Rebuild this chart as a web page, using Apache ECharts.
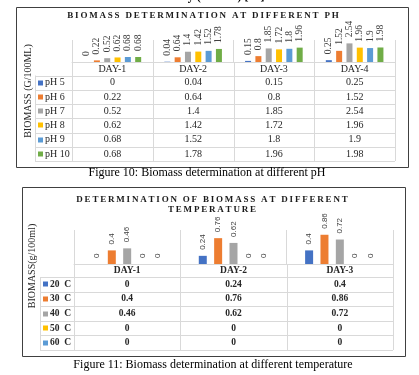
<!DOCTYPE html>
<html>
<head>
<meta charset="utf-8">
<script src="https://cdn.jsdelivr.net/npm/echarts@6/dist/echarts.min.js"></script>
<style>
html, body { margin: 0; padding: 0; background: #fff; }
#main { width: 419px; height: 375px; }
</style>
</head>
<body>
<div id="main"></div>
<script>
// figure 10 - pH
const days1 = ['DAY-1', 'DAY-2', 'DAY-3', 'DAY-4'];
const phNames = ['pH 5', 'pH 6', 'pH 7', 'pH 8', 'pH 9', 'pH 10'];
const ph5 = [0, 0.04, 0.15, 0.25];
const ph6 = [0.22, 0.64, 0.8, 1.52];
const ph7 = [0.52, 1.4, 1.85, 2.54];
const ph8 = [0.62, 1.42, 1.72, 1.96];
const ph9 = [0.68, 1.52, 1.8, 1.9];
const ph10 = [0.68, 1.78, 1.96, 1.98];

// figure 11 - temperature
const days2 = ['DAY-1', 'DAY-2', 'DAY-3'];
const tempNames = ['20  C', '30  C', '40  C', '50  C', '60  C'];
const t20 = [0, 0.24, 0.4];
const t30 = [0.4, 0.76, 0.86];
const t40 = [0.46, 0.62, 0.72];
const t50 = [0, 0, 0];
const t60 = [0, 0, 0];

const colors = ['#4472C4', '#ED7D31', '#A5A5A5', '#FFC000', '#5B9BD5', '#70AD47'];
const SERIF = '"Liberation Serif", "Times New Roman", serif';
const SANS = '"Liberation Sans", Arial, sans-serif';
const LINE = '#d9d9d9';

const g1 = { left: 72, top: 40, width: 323, height: 22 };
const g2 = { left: 74, top: 230, width: 319, height: 34 };

const chart = echarts.init(document.getElementById('main'));

function spaced (s) {
  return s.split('').join('\u2009');
}

function makeSeries (names, rows, axis, barWidth, barGap, lbl) {
  return names.map((n, i) => ({
    name: n,
    type: 'bar',
    xAxisIndex: axis,
    yAxisIndex: axis,
    data: rows[i],
    barWidth: barWidth,
    barGap: barGap,
    silent: true,
    itemStyle: { color: colors[i] },
    label: Object.assign({
      show: true,
      position: 'top',
      rotate: 90,
      align: 'left',
      verticalAlign: 'middle',
      distance: 6
    }, lbl)
  }))
}

function catAxis (grid, data, weight, size) {
  return {
    gridIndex: grid,
    type: 'category',
    data: data,
    axisLine: { lineStyle: { color: LINE } },
    axisTick: { show: false },
    splitLine: { show: true, lineStyle: { color: LINE } },
    axisLabel: {
      margin: 1,
      lineHeight: 12,
      fontFamily: SERIF,
      fontSize: size,
      fontWeight: weight,
      color: '#262626'
    }
  }
}

const option = {
  animation: false,
  grid: [
    Object.assign({}, g1),
    Object.assign({}, g2)
  ],
  xAxis: [catAxis(0, days1, 'normal', 10), catAxis(1, days2, 'bold', 9.5)],
  yAxis: [
    { gridIndex: 0, type: 'value', min: 0, max: 3, show: false },
    { gridIndex: 1, type: 'value', min: 0, max: 1, show: false }
  ],
  series: [].concat(
    makeSeries(phNames, [ph5, ph6, ph7, ph8, ph9, ph10], 0, 6, '72%',
      { fontFamily: SERIF, fontSize: 9.5, color: '#404040' }),
    makeSeries(tempNames, [t20, t30, t40, t50, t60], 1, 8, '92%',
      { fontFamily: SANS, fontSize: 8, color: '#404040' })
  )
}
chart.setOption(option)

// data tables + frames, placed from the axes
function table (axis, g, cats, names, rows, legLeft, rowTop, rowH, txt) {
  const out = []
  const right = g.left + g.width
  const bottom = rowTop + rowH * names.length
  const colW = g.width / cats.length
  const ln = (x1, y1, x2, y2) => out.push({
    type: 'line', silent: true,
    shape: { x1: x1, y1: y1, x2: x2, y2: y2 },
    style: { stroke: LINE, lineWidth: 1 }
  })
  for (let r = 0; r <= names.length; r++) {
    const y = Math.round(rowTop + r * rowH) + 0.5
    ln(legLeft, y, right, y)
  }
  for (let c = 0; c <= cats.length; c++) {
    const x = Math.round(g.left + c * colW) + 0.5
    ln(x, g.top + g.height, x, bottom)
  }
  ln(legLeft + 0.5, rowTop, legLeft + 0.5, bottom)
  names.forEach((n, r) => {
    const yc = rowTop + (r + 0.5) * rowH
    out.push({
      type: 'rect', silent: true,
      shape: { x: legLeft + 3, y: Math.round(yc) - 2.5, width: 5, height: 5 },
      style: { fill: colors[r] }
    })
    out.push({
      type: 'text', silent: true, x: legLeft + 10, y: yc,
      style: Object.assign({ text: n, align: 'left', verticalAlign: 'middle', fill: '#262626' }, txt)
    })
    cats.forEach((c, i) => {
      const x = chart.convertToPixel({ xAxisIndex: axis }, c)
      out.push({
        type: 'text', silent: true, x: x, y: yc,
        style: Object.assign({ text: String(rows[r][i]), align: 'center', verticalAlign: 'middle', fill: '#262626' }, txt)
      })
    })
  })
  return out
}

function label (text, x, y, extra, rot) {
  return {
    type: 'text', silent: true, x: x, y: y, rotation: rot || 0,
    style: Object.assign({ text: text, align: 'center', verticalAlign: 'middle', fill: '#000' }, extra)
  }
}

const graphics = [].concat(
  [
    label('and determination of antimicrobial activity (MIC50) [24].', 120, -3.5,
      { fontFamily: SERIF, fontSize: 12, fontWeight: 'bold' }),
    {
      type: 'rect', silent: true,
      shape: { x: 16.5, y: 7.5, width: 392, height: 160 },
      style: { fill: null, stroke: '#404040', lineWidth: 1 }
    },
    label(spaced('BIOMASS DETERMINATION AT DIFFERENT PH'), 203, 16,
      { fontFamily: SERIF, fontSize: 9, fontWeight: 'bold', fill: '#1a1a1a' }),
    label('BIOMASS (G/100ML)', 28, 91, { fontFamily: SERIF, fontSize: 10, fill: '#262626' }, Math.PI / 2),
    label('Figure 10: Biomass determination at different pH', 207, 173,
      { fontFamily: SERIF, fontSize: 12 }),
    {
      type: 'rect', silent: true,
      shape: { x: 22.5, y: 187.5, width: 383, height: 169 },
      style: { fill: null, stroke: '#404040', lineWidth: 1 }
    },
    label(spaced('DETERMINATION OF BIOMASS AT DIFFERENT'), 212, 200,
      { fontFamily: SERIF, fontSize: 9, fontWeight: 'bold', fill: '#1a1a1a' }),
    label(spaced('TEMPERATURE'), 212, 210,
      { fontFamily: SERIF, fontSize: 9, fontWeight: 'bold', fill: '#1a1a1a' }),
    label('BIOMASS(g/100ml)', 32, 266, { fontFamily: SERIF, fontSize: 10, fill: '#262626' }, Math.PI / 2),
    label('Figure 11: Biomass determination at different temperature', 213, 365,
      { fontFamily: SERIF, fontSize: 12 })
  ],
  table(0, g1, days1, phNames, [ph5, ph6, ph7, ph8, ph9, ph10], 35, 75.5, 14.25,
    { fontFamily: SERIF, fontSize: 10 }),
  table(1, g2, days2, tempNames, [t20, t30, t40, t50, t60], 40, 277, 14.6,
    { fontFamily: SERIF, fontSize: 9.5, fontWeight: 'bold' })
)

chart.setOption({ graphic: graphics })
</script>
</body>
</html>
